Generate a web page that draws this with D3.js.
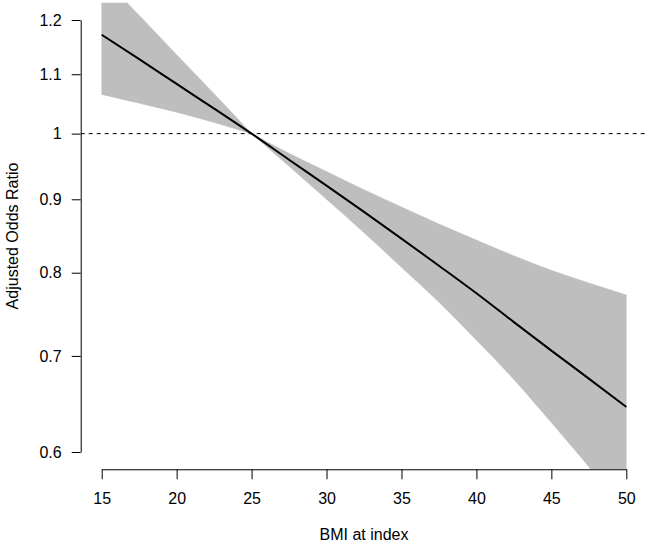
<!DOCTYPE html>
<html>
<head>
<meta charset="utf-8">
<script src="https://cdn.jsdelivr.net/npm/d3@7"></script>
<style>
  html, body { margin: 0; padding: 0; background: #fff; }
  svg { display: block; font-family: "Liberation Sans", Arial, sans-serif; }
</style>
</head>
<body>
<svg id="chart" width="651" height="550"></svg>
<script>
// BMI grid
const bmi = [15, 17.5, 20, 22.5, 25, 27.5, 30, 32.5, 35, 37.5, 40, 42.5, 45, 47.5, 50];
// adjusted odds ratio (fit)
const oddsRatio = [1.172, 1.127, 1.083, 1.041, 1.0, 0.959, 0.920, 0.882, 0.845, 0.809, 0.774, 0.739, 0.706, 0.675, 0.645];
// confidence band
const lowerCI = [1.065, 1.050, 1.035, 1.018, 1.0, 0.949, 0.900, 0.853, 0.807, 0.763, 0.718, 0.674, 0.629, 0.586, 0.545];
const upperCI = [1.287, 1.209, 1.135, 1.066, 1.0, 0.969, 0.941, 0.914, 0.889, 0.865, 0.843, 0.822, 0.803, 0.787, 0.772];
// reference BMI (band pinches here)
const refBMI = 25;
// ticks
const xTicks = [15, 20, 25, 30, 35, 40, 45, 50];
const yTicks = [0.6, 0.7, 0.8, 0.9, 1, 1.1, 1.2];
const yTickLabels = ["0.6", "0.7", "0.8", "0.9", "1", "1.1", "1.2"];
const refValue = 1;

const svg = d3.select("#chart");
const x = d3.scaleLinear().domain([15, 50]).range([101.7, 626.3]);
const y = d3.scaleLog().domain([0.6, 1.2]).range([452, 20]);

// plot region (R-style 4% extension)
const xr = x.range(), yr = y.range();
const padX = (xr[1] - xr[0]) * 0.04, padY = (yr[0] - yr[1]) * 0.04;
const plotL = xr[0] - padX, plotR = xr[1] + padX;
const plotT = yr[1] - padY, plotB = yr[0] + padY;

svg.append("defs").append("clipPath").attr("id", "clip")
  .append("rect").attr("x", plotL).attr("y", plotT)
  .attr("width", plotR - plotL).attr("height", plotB - plotT);

const data = bmi.map((b, i) => ({ b, f: oddsRatio[i], lo: lowerCI[i], hi: upperCI[i] }));

const g = svg.append("g").attr("clip-path", "url(#clip)");

const area = d3.area().x(d => x(d.b)).y0(d => y(d.lo)).y1(d => y(d.hi)).curve(d3.curveMonotoneX);
[data.filter(d => d.b <= refBMI), data.filter(d => d.b >= refBMI)].forEach(part => {
  g.append("path").datum(part)
    .attr("fill", "#bebebe")
    .attr("stroke", "#bebebe").attr("stroke-width", 0.5)
    .attr("d", area);
});

g.append("line")
  .attr("x1", plotL).attr("x2", plotR)
  .attr("y1", y(refValue)).attr("y2", y(refValue))
  .attr("stroke", "#000").attr("stroke-width", 1)
  .attr("stroke-dasharray", "4,4");

g.append("path").datum(data)
  .attr("fill", "none").attr("stroke", "#000").attr("stroke-width", 2)
  .attr("d", d3.line().x(d => x(d.b)).y(d => y(d.f)).curve(d3.curveMonotoneX));

// axes
const yAxis = d3.axisLeft(y).tickValues(yTicks).tickFormat((d, i) => yTickLabels[i])
  .tickSize(9).tickSizeOuter(0).tickPadding(10);
const ya = svg.append("g").attr("transform", `translate(${plotL},0)`).call(yAxis);
ya.selectAll("text").attr("font-size", 16).attr("fill", "#000").attr("font-family", "Liberation Sans, Arial, sans-serif");

const xAxis = d3.axisBottom(x).tickValues(xTicks).tickFormat(d3.format("d"))
  .tickSize(10).tickSizeOuter(0).tickPadding(13);
const xa = svg.append("g").attr("transform", `translate(0,${plotB})`).call(xAxis);
xa.selectAll("text").attr("font-size", 16).attr("fill", "#000").attr("font-family", "Liberation Sans, Arial, sans-serif");

svg.selectAll(".domain, .tick line").attr("stroke", "#000").attr("stroke-width", 1);

// titles
svg.append("text")
  .attr("x", (plotL + plotR) / 2).attr("y", 540)
  .attr("text-anchor", "middle").attr("font-size", 16).attr("fill", "#000")
  .text("BMI at index");

svg.append("text")
  .attr("transform", `translate(18,${(plotT + plotB) / 2}) rotate(-90)`)
  .attr("text-anchor", "middle").attr("font-size", 16).attr("fill", "#000")
  .text("Adjusted Odds Ratio");
</script>
</body>
</html>
